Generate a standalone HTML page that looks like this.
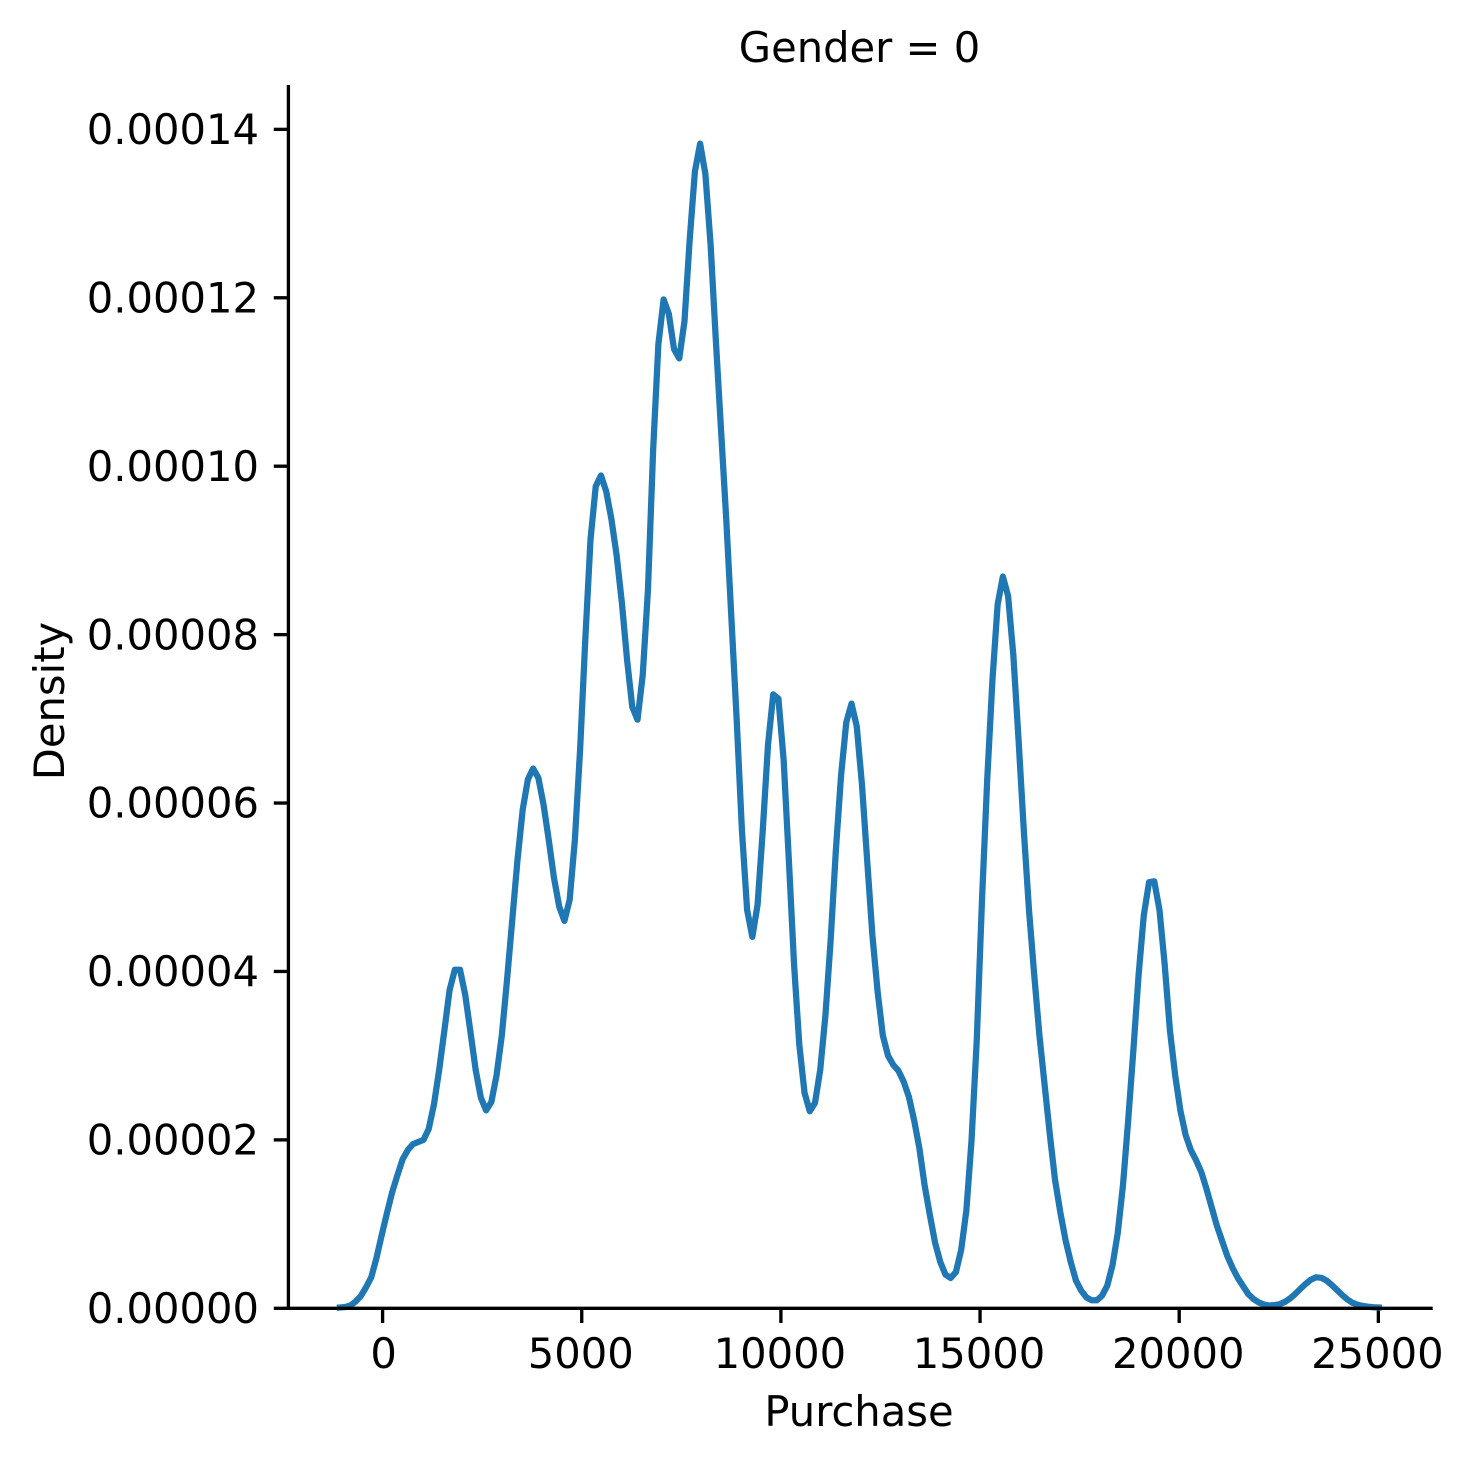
<!DOCTYPE html>
<html lang="en">
<head>
<meta charset="utf-8">
<title>Gender = 0 Purchase Density</title>
<style>
html,body{margin:0;padding:0;background:#fff;}
svg{display:block;}
text{font-family:"DejaVu Sans","Liberation Sans",sans-serif;font-size:41.67px;fill:#000;}
</style>
</head>
<body>
<svg id="chart" width="1473" height="1464" viewBox="0 0 1473 1464" xmlns="http://www.w3.org/2000/svg">
  <rect x="0" y="0" width="1473" height="1464" fill="#fff"/>
  <text x="859.5" y="62" text-anchor="middle">Gender = 0</text>
  <text x="859" y="1426" text-anchor="middle">Purchase</text>
  <text x="64" y="701" text-anchor="middle" transform="rotate(-90 64 701)">Density</text>
  <g id="ticks"></g>
  <path id="curve" fill="none" stroke="#1f77b4" stroke-width="6.25" stroke-linejoin="round" stroke-linecap="square"></path>
  <line x1="288.4" y1="85" x2="288.4" y2="1310" stroke="#000" stroke-width="3.33"/>
  <line x1="286.7" y1="1308.3" x2="1432.7" y2="1308.3" stroke="#000" stroke-width="3.33"/>
</svg>
<script>
const purchase = [
-1070,-939,-808,-677,-546,-415,-284,-153,-22,109,
241,372,503,634,765,896,1027,1158,1289,1420,
1551,1682,1813,1944,2075,2206,2337,2468,2599,2730,
2862,2993,3124,3255,3386,3517,3648,3779,3910,4041,
4172,4303,4434,4565,4696,4827,4958,5089,5220,5351,
5483,5614,5745,5876,6007,6138,6269,6400,6531,6662,
6793,6924,7055,7186,7317,7448,7579,7710,7841,7972,
8104,8235,8366,8497,8628,8759,8890,9021,9152,9283,
9414,9545,9676,9807,9938,10069,10200,10331,10462,10593,
10725,10856,10987,11118,11249,11380,11511,11642,11773,11904,
12035,12166,12297,12428,12559,12690,12821,12952,13083,13214,
13346,13477,13608,13739,13870,14001,14132,14263,14394,14525,
14656,14787,14918,15049,15180,15311,15442,15573,15704,15835,
15967,16098,16229,16360,16491,16622,16753,16884,17015,17146,
17277,17408,17539,17670,17801,17932,18063,18194,18325,18456,
18588,18719,18850,18981,19112,19243,19374,19505,19636,19767,
19898,20029,20160,20291,20422,20553,20684,20815,20946,21077,
21209,21340,21471,21602,21733,21864,21995,22126,22257,22388,
22519,22650,22781,22912,23043,23174,23305,23436,23567,23698,
23830,23961,24092,24223,24354,24485,24616,24747,24878,25009];
const densityE5 = [
.01,.015,.033,.08,.146,.25,.37,.60,.87,1.13,
1.38,1.58,1.77,1.88,1.95,1.975,2.0,2.13,2.42,2.83,
3.30,3.78,4.02,4.02,3.72,3.28,2.83,2.50,2.35,2.45,
2.77,3.24,3.90,4.61,5.32,5.92,6.28,6.41,6.30,5.98,
5.56,5.11,4.77,4.60,4.85,5.56,6.63,7.94,9.13,9.76,
9.89,9.70,9.37,8.94,8.38,7.70,7.14,6.99,7.52,8.53,
10.2,11.45,11.98,11.81,11.39,11.28,11.72,12.69,13.50,13.83,
13.47,12.63,11.50,10.43,9.37,8.18,6.99,5.68,4.73,4.41,
4.79,5.68,6.69,7.29,7.24,6.51,5.32,4.08,3.13,2.56,
2.34,2.44,2.83,3.48,4.37,5.44,6.33,6.96,7.18,6.91,
6.22,5.32,4.43,3.76,3.24,3.00,2.89,2.82,2.69,2.51,
2.23,1.90,1.46,1.11,.78,.55,.40,.36,.43,.69,
1.16,2.00,3.19,4.85,6.28,7.46,8.36,8.69,8.46,7.76,
6.75,5.68,4.73,3.96,3.24,2.65,2.06,1.52,1.14,.81,
.55,.33,.21,.13,.095,.095,.15,.27,.51,.89,
1.46,2.23,3.07,3.96,4.67,5.06,5.07,4.73,4.08,3.30,
2.77,2.35,2.06,1.88,1.76,1.62,1.42,1.20,.98,.80,
.62,.48,.36,.265,.17,.11,.07,.045,.033,.037,
.048,.075,.116,.17,.23,.29,.34,.368,.362,.33,
.277,.217,.158,.105,.065,.042,.027,.018,.013,.01];
const xTickValues = [0,5000,10000,15000,20000,25000];
const xTickLabels = ["0","5000","10000","15000","20000","25000"];
const yTickValues = [0,2,4,6,8,10,12,14];
const yTickLabels = ["0.00000","0.00002","0.00004","0.00006","0.00008","0.00010","0.00012","0.00014"];

function xScale(v){ return 382.6 + v * 0.03983; }
function yScale(v){ return 1308.3 - v * 84.21; }

const NS = "http://www.w3.org/2000/svg";
const tickGroup = document.getElementById("ticks");

xTickValues.forEach(function(v,i){
  const px = xScale(v);
  const tick = document.createElementNS(NS,"line");
  
  
  tick.setAttribute("x1",px); tick.setAttribute("x2",px);
  tick.setAttribute("y1",1308.3); tick.setAttribute("y2",1323);
  tick.setAttribute("stroke","#000"); tick.setAttribute("stroke-width","3.33");
  tickGroup.appendChild(tick);
  const label = document.createElementNS(NS,"text");
  
  
  label.setAttribute("x",v === 0 ? px + 1 : px - 1); label.setAttribute("y",1368);
  label.setAttribute("text-anchor","middle");
  label.textContent = xTickLabels[i];
  tickGroup.appendChild(label);
});

yTickValues.forEach(function(v,i){
  const py = yScale(v);
  const tick = document.createElementNS(NS,"line");
  
  
  tick.setAttribute("x1",273.8); tick.setAttribute("x2",288.4);
  tick.setAttribute("y1",py); tick.setAttribute("y2",py);
  tick.setAttribute("stroke","#000"); tick.setAttribute("stroke-width","3.33");
  tickGroup.appendChild(tick);
  const label = document.createElementNS(NS,"text");
  
  
  label.setAttribute("x",259); label.setAttribute("y",py+14.7);
  label.setAttribute("text-anchor","end");
  label.textContent = yTickLabels[i];
  tickGroup.appendChild(label);
});

let d = "";
purchase.forEach(function(x,i){
  d += (i ? "L" : "M") + xScale(x).toFixed(2) + " " + yScale(densityE5[i]).toFixed(2);
});
document.getElementById("curve").setAttribute("d", d);
</script>
</body>
</html>
